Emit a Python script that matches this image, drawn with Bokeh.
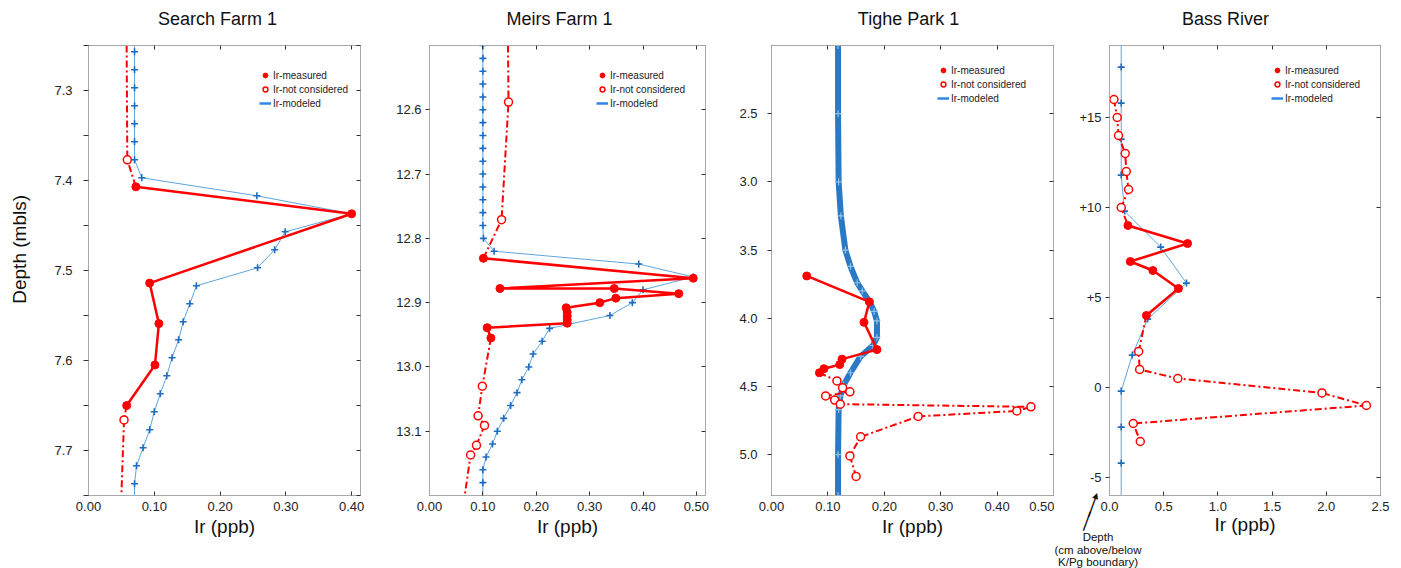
from bokeh.plotting import figure
from bokeh.models import (Range1d, FixedTicker, LinearAxis, PrintfTickFormatter, Legend,
                          LegendItem, Label, CustomLabelingPolicy)
from bokeh.layouts import row
from bokeh.embed import file_html
from bokeh.resources import INLINE

FONT = "Liberation Sans"
RED = "#ff0000"
BLUE_LINE = "#5ea6de"
BLUE_MARK = "#1f6cbf"
FRAME = "#a9a9a9"
TICK = "#333333"
NAN = float("nan")

# ---------------- Search Farm 1 ----------------
sf_mod_depth = [7.257, 7.277, 7.297, 7.317, 7.337, 7.357, 7.377, 7.397, 7.417, 7.437, 7.457, 7.477, 7.497,
                7.517, 7.537, 7.557, 7.577, 7.597, 7.617, 7.637, 7.657, 7.677, 7.697, 7.717, 7.737]
sf_mod_ir = [0.070, 0.070, 0.070, 0.070, 0.070, 0.070, 0.070, 0.081, 0.256, 0.400, 0.299, 0.283, 0.257,
             0.164, 0.154, 0.144, 0.137, 0.127, 0.119, 0.109, 0.100, 0.093, 0.083, 0.073, 0.070]
sf_mod_edge_depth = [7.25, 7.75]
sf_mod_edge_ir = [0.070, 0.070]
sf_meas_depth = [7.407, 7.437, 7.514, 7.559, 7.605, 7.650]
sf_meas_ir = [0.072, 0.400, 0.093, 0.107, 0.101, 0.058]
sf_nc_depth = [7.377, 7.666]
sf_nc_ir = [0.059, 0.054]
sf_nc_up_depth = [7.25, 7.377, 7.407]
sf_nc_up_ir = [0.058, 0.059, 0.072]
sf_nc_lo_depth = [7.650, 7.666, 7.75]
sf_nc_lo_ir = [0.058, 0.054, 0.050]
sf_xticks = [0.0, 0.1, 0.2, 0.3, 0.4]
sf_yticks = [7.3, 7.4, 7.5, 7.6, 7.7]
sf_yminor = [7.25, 7.35, 7.45, 7.55, 7.65, 7.75]

# ---------------- Meirs Farm 1 ----------------
mf_mod_depth = [12.50, 12.52, 12.54, 12.56, 12.58, 12.60, 12.62, 12.64, 12.66, 12.68, 12.70, 12.72, 12.74,
                12.76, 12.78, 12.80, 12.82, 12.84, 12.86, 12.88, 12.90, 12.92, 12.94, 12.96, 12.98, 13.00,
                13.02, 13.04, 13.06, 13.08, 13.10, 13.12, 13.14, 13.16, 13.18]
mf_mod_ir = [0.100, 0.100, 0.100, 0.100, 0.100, 0.100, 0.100, 0.100, 0.100, 0.100, 0.100, 0.100, 0.100,
             0.100, 0.100, 0.101, 0.121, 0.392, 0.494, 0.400, 0.380, 0.338, 0.225, 0.211, 0.194, 0.186,
             0.173, 0.164, 0.152, 0.139, 0.127, 0.118, 0.106, 0.100, 0.100]
mf_mod_edge_depth = [12.50, 13.20]
mf_mod_edge_ir = [0.100, 0.100]
mf_meas_depth = [12.831, 12.862, 12.878, 12.878, 12.886, 12.893, 12.900, 12.908, 12.915, 12.921, 12.927,
                 12.932, 12.939, 12.955]
mf_meas_ir = [0.101, 0.494, 0.132, 0.346, 0.467, 0.349, 0.319, 0.256, 0.258, 0.258, 0.258, 0.258, 0.108, 0.115]
mf_nc_depth = [12.588, 12.771, 13.030, 13.076, 13.091, 13.122, 13.137]
mf_nc_ir = [0.148, 0.135, 0.099, 0.091, 0.103, 0.088, 0.077]
mf_nc_up_depth = [12.50, 12.588, 12.771, 12.831]
mf_nc_up_ir = [0.147, 0.148, 0.135, 0.101]
mf_nc_lo_depth = [12.955, 13.030, 13.076, 13.091, 13.122, 13.137, 13.20]
mf_nc_lo_ir = [0.115, 0.099, 0.091, 0.103, 0.088, 0.077, 0.066]
mf_xticks = [0.0, 0.1, 0.2, 0.3, 0.4, 0.5]
mf_yticks = [12.6, 12.7, 12.8, 12.9, 13.0, 13.1]

# ---------------- Tighe Park 1 ----------------
tp_mod_depth = [2.0, 2.5, 3.0, 3.25, 3.5, 3.62, 3.74, 3.80, 3.88, 3.95, 4.02, 4.14, 4.20, 4.28, 4.40,
                4.49, 4.57, 4.67, 5.0, 5.3]
tp_mod_ir = [0.118, 0.118, 0.119, 0.123, 0.131, 0.140, 0.152, 0.161, 0.174, 0.182, 0.187, 0.187, 0.180,
             0.158, 0.140, 0.128, 0.122, 0.119, 0.118, 0.118]
tp_meas_depth = [3.69, 3.88, 4.03, 4.23, 4.30, 4.34, 4.37, 4.40]
tp_meas_ir = [0.0625, 0.1735, 0.164, 0.187, 0.125, 0.121, 0.093, 0.085]
tp_nc_depth = [4.46, 4.51, 4.54, 4.57, 4.60, 4.63, 4.65, 4.68, 4.72, 4.87, 5.01, 5.16]
tp_nc_ir = [0.116, 0.126, 0.139, 0.096, 0.112, 0.122, 0.460, 0.435, 0.260, 0.158, 0.139, 0.150]
tp_xticks = [0.0, 0.1, 0.2, 0.3, 0.4, 0.5]
tp_yticks = [2.5, 3.0, 3.5, 4.0, 4.5, 5.0]

# ---------------- Bass River ----------------
br_mod_depth = [17.8, 15.8, 13.8, 11.8, 9.8, 7.8, 5.8, 3.8, 1.8, -0.2, -2.2, -4.2]
br_mod_ir = [0.108, 0.108, 0.108, 0.108, 0.139, 0.472, 0.710, 0.352, 0.210, 0.108, 0.108, 0.108]
br_mod_edge_depth = [19.0, -6.0]
br_mod_edge_ir = [0.108, 0.108]
br_meas_depth = [9.0, 8.0, 7.0, 6.5, 5.5, 4.0]
br_meas_ir = [0.170, 0.720, 0.192, 0.400, 0.636, 0.340]
br_nc_up_depth = [16.0, 15.0, 14.0, 13.0, 12.0, 11.0, 10.0]
br_nc_up_ir = [0.041, 0.071, 0.083, 0.145, 0.155, 0.176, 0.108]
br_nc_lo_depth = [2.0, 1.0, 0.5, -0.3, -1.0, -2.0, -3.0]
br_nc_lo_ir = [0.269, 0.278, 0.630, 1.960, 2.370, 0.219, 0.284]
br_xticks = [0.0, 0.5, 1.0, 1.5, 2.0, 2.5]
br_yticks = [15, 10, 5, 0, -5]
br_ylabels = ["+15", "+10", "+5", "0", "-5"]
br_note_lines = ["Depth", "(cm above/below", "K/Pg boundary)"]

NO_LABELS = CustomLabelingPolicy(code="return new Set()")


def style_axis(ax, ticker, fmt, tick_in, tick_out, show, standoff):
    ax.ticker = ticker
    if fmt is not None:
        ax.formatter = fmt
    ax.axis_line_color = FRAME
    ax.major_tick_line_color = TICK
    ax.minor_tick_line_color = TICK
    ax.major_tick_in = tick_in
    ax.major_tick_out = tick_out
    ax.minor_tick_in = tick_in
    ax.minor_tick_out = tick_out
    ax.major_label_text_font = FONT
    ax.major_label_text_color = "#222222"
    ax.major_label_standoff = standoff
    if show:
        ax.major_label_text_font_size = "13px"
    else:
        ax.major_label_text_font_size = "0px"
        ax.major_label_policy = NO_LABELS


def text_label(x, y, text, size, **kw):
    return Label(x=x, y=y, x_units="canvas", y_units="canvas", text=text, text_align="center",
                 text_baseline="middle", text_font=kw.pop("font", FONT), text_font_size=size,
                 text_color="#111111", **kw)


def panel(title, title_cx, W, L, R, xr, yr, xt, xfmt, yt, ymin, yfmt, ystand, ytick_out, xlab_standoff=2):
    p = figure(width=W, height=568, x_range=Range1d(*xr), y_range=Range1d(*yr),
               output_backend="svg", toolbar_location=None,
               min_border_left=L, min_border_right=R, min_border_top=45, min_border_bottom=73)
    p.grid.visible = False
    p.outline_line_color = FRAME
    p.background_fill_color = "white"
    p.border_fill_color = "white"
    p.title.visible = False
    xtk = FixedTicker(ticks=xt, minor_ticks=[])
    ytk = FixedTicker(ticks=yt, minor_ticks=ymin)
    style_axis(p.xaxis[0], xtk, PrintfTickFormatter(format=xfmt), 4, 0, True, 6)
    p.xaxis[0].axis_label = "Ir (ppb)"
    p.xaxis[0].axis_label_text_font = FONT
    p.xaxis[0].axis_label_text_font_size = "19px"
    p.xaxis[0].axis_label_text_font_style = "normal"
    p.xaxis[0].axis_label_text_color = "#111111"
    p.xaxis[0].axis_label_standoff = xlab_standoff
    style_axis(p.yaxis[0], ytk, yfmt, 0, ytick_out, True, ystand)
    top = LinearAxis()
    style_axis(top, xtk, None, 4, 0, False, 0)
    p.add_layout(top, "above")
    right = LinearAxis()
    style_axis(right, ytk, None, 4, 0, False, 0)
    p.add_layout(right, "right")
    # title drawn as a label in the top margin
    p.add_layout(text_label(title_cx, 18.5, title, "18px"), "above")
    return p


def add_legend(p, r_meas, r_nc, xy):
    r_leg = p.line(x=[NAN, NAN], y=[NAN, NAN], line_color="#2f86e6", line_width=2.5)
    leg = Legend(items=[LegendItem(label="Ir-measured", renderers=[r_meas]),
                        LegendItem(label="Ir-not considered", renderers=[r_nc]),
                        LegendItem(label="Ir-modeled", renderers=[r_leg])],
                 location=xy, border_line_alpha=0, background_fill_alpha=0,
                 padding=0, margin=0, spacing=0, label_height=14, glyph_height=14, glyph_width=12,
                 label_standoff=2, label_text_font=FONT, label_text_font_size="10px",
                 label_text_color="#222222")
    p.add_layout(leg)


def modeled(p, depth, ir, edge_d=None, edge_i=None):
    ld = [edge_d[0]] + depth + [edge_d[1]]
    li = [edge_i[0]] + ir + [edge_i[1]]
    p.line(li, ld, line_color=BLUE_LINE, line_width=1)
    p.scatter(ir, depth, marker="cross", size=7, line_color=BLUE_MARK, line_width=1.6)


def nc_line(p, depth, ir):
    p.line(ir, depth, line_color=RED, line_width=2, line_dash="7 3 2 3")


def meas(p, depth, ir):
    p.line(ir, depth, line_color=RED, line_width=2.5)
    return p.scatter(ir, depth, marker="circle", size=8, fill_color=RED, line_color=RED)


def nc_pts(p, depth, ir):
    return p.scatter(ir, depth, marker="circle", size=8, fill_color="white", line_color=RED, line_width=1.5)


# Panel 1
p1 = panel("Search Farm 1", 217, 366, 88, 6, (0, 0.4135), (7.75, 7.25), sf_xticks, "%.2f",
           sf_yticks, sf_yminor, PrintfTickFormatter(format="%.1f"), 11, 5)
p1.yaxis[0].axis_label = "\u00a0" * 8 + "Depth (mbls)"
p1.yaxis[0].axis_label_text_font = FONT
p1.yaxis[0].axis_label_text_font_size = "19px"
p1.yaxis[0].axis_label_text_font_style = "normal"
p1.yaxis[0].axis_label_text_color = "#111111"
p1.yaxis[0].axis_label_standoff = 21
modeled(p1, sf_mod_depth, sf_mod_ir, sf_mod_edge_depth, sf_mod_edge_ir)
nc_line(p1, sf_nc_up_depth, sf_nc_up_ir)
nc_line(p1, sf_nc_lo_depth, sf_nc_lo_ir)
r1m = meas(p1, sf_meas_depth, sf_meas_ir)
r1n = nc_pts(p1, sf_nc_depth, sf_nc_ir)
add_legend(p1, r1m, r1n, (171, 385))

# Panel 2
p2 = panel("Meirs Farm 1", 193, 345, 63, 6, (0, 0.517), (13.20, 12.50), mf_xticks, "%.2f",
           mf_yticks, [], PrintfTickFormatter(format="%.1f"), 4, 4)
modeled(p2, mf_mod_depth, mf_mod_ir, mf_mod_edge_depth, mf_mod_edge_ir)
nc_line(p2, mf_nc_up_depth, mf_nc_up_ir)
nc_line(p2, mf_nc_lo_depth, mf_nc_lo_ir)
r2m = meas(p2, mf_meas_depth, mf_meas_ir)
r2n = nc_pts(p2, mf_nc_depth, mf_nc_ir)
add_legend(p2, r2m, r2n, (167, 385))

# Panel 3
p3 = panel("Tighe Park 1", 197, 343, 60, 1, (0, 0.50), (5.30, 2.0), tp_xticks, "%.2f",
           tp_yticks, [], PrintfTickFormatter(format="%.1f"), 10, 4)
p3.line(tp_mod_ir, tp_mod_depth, line_color="#2a79c4", line_width=6)
p3.scatter(tp_mod_ir, tp_mod_depth, marker="cross", size=7, line_color="#8fc0ea", line_width=1.2)
nc_line(p3, [tp_meas_depth[-1]] + tp_nc_depth, [tp_meas_ir[-1]] + tp_nc_ir)
r3m = meas(p3, tp_meas_depth, tp_meas_ir)
r3n = nc_pts(p3, tp_nc_depth, tp_nc_ir)
add_legend(p3, r3m, r3n, (166, 390))

# Panel 4
p4 = panel("Bass River", 171, 347, 55, 21, (0, 2.5), (-6, 19), br_xticks, "%.1f",
           br_yticks, [], None, 4, 4, xlab_standoff=0)
p4.yaxis[0].major_label_overrides = {t: s for t, s in zip(br_yticks, br_ylabels)}
modeled(p4, br_mod_depth, br_mod_ir, br_mod_edge_depth, br_mod_edge_ir)
nc_line(p4, br_nc_up_depth + [br_meas_depth[0]], br_nc_up_ir + [br_meas_ir[0]])
nc_line(p4, [br_meas_depth[-1]] + br_nc_lo_depth, [br_meas_ir[-1]] + br_nc_lo_ir)
r4m = meas(p4, br_meas_depth, br_meas_ir)
r4n = nc_pts(p4, br_nc_up_depth + br_nc_lo_depth, br_nc_up_ir + br_nc_lo_ir)
add_legend(p4, r4m, r4n, (162, 390))
# annotation below/left of the Bass River frame: labels live in side panels (never clipped),
# spread over the margins that still have room
p4.add_layout(text_label(43.5, 536, br_note_lines[0], "11.5px"), "above")
p4.add_layout(text_label(43.5, 549, br_note_lines[1], "11.5px"), "below")
p4.add_layout(text_label(43.5, 561, br_note_lines[2], "11.5px"), "below")
# arrow: two thin shaft pieces + small head, tilted toward the depth axis
p4.add_layout(text_label(37.5, 506.6, "\u2502", "17px", font="DejaVu Sans", angle=-0.351), "left")
p4.add_layout(text_label(32.4, 520.7, "\u2502", "17px", font="DejaVu Sans", angle=-0.351), "right")
p4.add_layout(text_label(41.8, 495, "\u25b2", "8px", font="DejaVu Sans", angle=-0.351), "above")

layout = row(p1, p2, p3, p4, spacing=0)
open("out.html", "w").write(file_html(layout, INLINE))
